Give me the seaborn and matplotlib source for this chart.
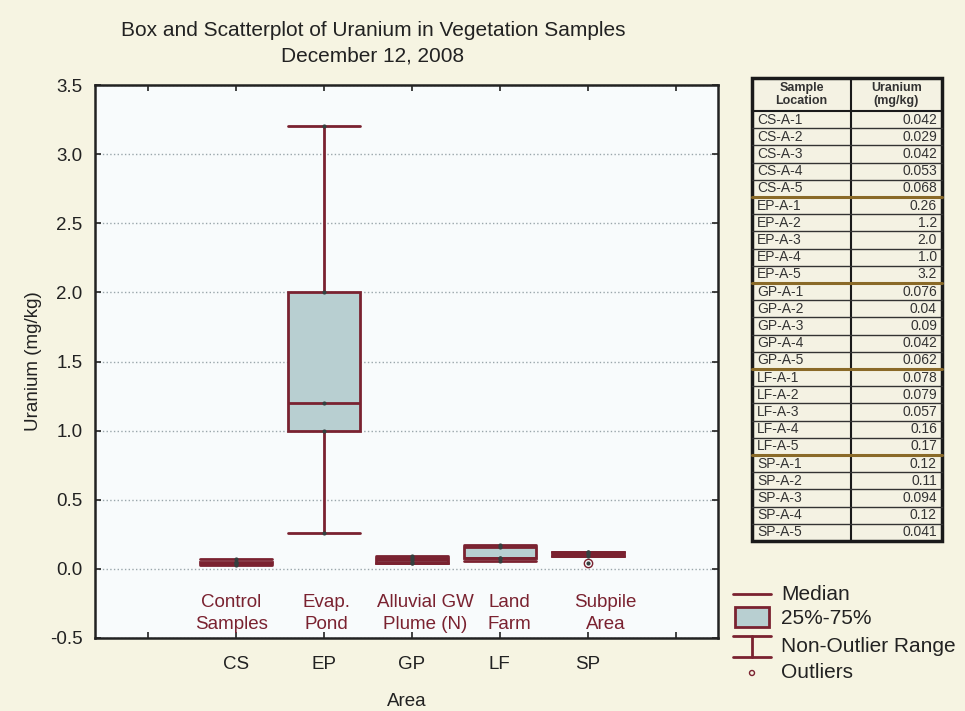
import numpy as np
import pandas as pd
import seaborn as sns
import matplotlib.pyplot as plt
from matplotlib.patches import Rectangle, Circle

areas = ['CS', 'EP', 'GP', 'LF', 'SP']
area_names = ['Control\nSamples', 'Evap.\nPond', 'Alluvial GW\nPlume (N)', 'Land\nFarm', 'Subpile\nArea']
cs_values = ['0.042', '0.029', '0.042', '0.053', '0.068']
ep_values = ['0.26', '1.2', '2.0', '1.0', '3.2']
gp_values = ['0.076', '0.04', '0.09', '0.042', '0.062']
lf_values = ['0.078', '0.079', '0.057', '0.16', '0.17']
sp_values = ['0.12', '0.11', '0.094', '0.12', '0.041']

BG = '#F6F4E2'
MAROON = '#7A2230'
BOXFILL = '#B8CFD1'
TXT = '#222222'

groups = [cs_values, ep_values, gp_values, lf_values, sp_values]
rows = []
for area, vals in zip(areas, groups):
    for i, v in enumerate(vals):
        rows.append({'Area': area, 'Sample': f'{area}-A-{i + 1}', 'label': v, 'Uranium': float(v)})
df = pd.DataFrame(rows)

sns.set_style('ticks')
plt.rcParams['font.family'] = ['Liberation Sans', 'DejaVu Sans']

fig = plt.figure(figsize=(9.65, 7.11), dpi=100, facecolor=BG)
ax = fig.add_axes([95 / 965, 73 / 711, 623 / 965, 553 / 711])
ax.set_facecolor('#F8FBFC')

sns.boxplot(data=df, x='Area', y='Uranium', order=areas, ax=ax, width=0.82,
            color=BOXFILL, saturation=1, linecolor=MAROON, linewidth=2,
            whis=1.5, capwidths=0.82,
            flierprops=dict(marker='o', markersize=6, markerfacecolor='none',
                            markeredgecolor=MAROON, markeredgewidth=1))
sns.stripplot(data=df, x='Area', y='Uranium', order=areas, ax=ax, jitter=False,
              color='#34403f', size=3, zorder=5)

ax.set_xlim(-1.6, 5.48)
ax.set_ylim(-0.5, 3.5)
ax.set_xticks(range(-1, 6))
ax.set_xticklabels([''] + areas + [''])
ax.set_yticks(np.arange(-0.5, 3.51, 0.5))
ax.set_yticklabels([f'{v:.1f}' for v in np.arange(-0.5, 3.51, 0.5)])
ax.yaxis.grid(True, linestyle=':', color='#9aa6ab', linewidth=1)
ax.set_axisbelow(True)
ax.tick_params(direction='in', length=4, width=1.2, top=True, right=True,
               labelsize=13.5, colors=TXT, pad=9)
ax.tick_params(axis='x', pad=13)
for s in ax.spines.values():
    s.set_linewidth(1.8)
    s.set_color('#222222')

ax.set_xlabel('Area', fontsize=13.5, color=TXT, labelpad=14)
ax.set_ylabel('Uranium (mg/kg)', fontsize=13.5, color=TXT, labelpad=6)

label_x = [-0.05, 1.03, 2.15, 3.11, 4.2]
for xpos, name in zip(label_x, area_names):
    ax.text(xpos, -0.32, name, ha='center', va='center', fontsize=13.5,
            color=MAROON, linespacing=1.4)

fig.text(373 / 965, 1 - 30 / 711, 'Box and Scatterplot of Uranium in Vegetation Samples',
         ha='center', va='center', fontsize=15, color=TXT)
fig.text(373 / 965, 1 - 56 / 711, 'December 12, 2008',
         ha='center', va='center', fontsize=15, color=TXT)

# overlay in pixel coordinates for the table and the legend
ov = fig.add_axes([0, 0, 1, 1])
ov.set_xlim(0, 965)
ov.set_ylim(711, 0)
ov.axis('off')
ov.patch.set_visible(False)

# table
tx0, tx1, tmid = 752, 942, 851
ty0, head_h, row_h = 78, 33, 17.2
n = len(df)
ty1 = ty0 + head_h + n * row_h
ov.add_patch(Rectangle((tx0, ty0), tx1 - tx0, ty1 - ty0, facecolor='#F4F2E3',
                       edgecolor='#1a1a1a', linewidth=2.5, zorder=3))
ov.plot([tmid, tmid], [ty0, ty1], color='#1a1a1a', lw=1.5, zorder=4)
ov.plot([tx0, tx1], [ty0 + head_h, ty0 + head_h], color='#1a1a1a', lw=1.5, zorder=4)
ov.text((tx0 + tmid) / 2, ty0 + head_h / 2, 'Sample\nLocation', ha='center', va='center',
        fontsize=9, fontweight='bold', color='#333333', linespacing=1.2, zorder=5)
ov.text((tmid + tx1) / 2, ty0 + head_h / 2, 'Uranium\n(mg/kg)', ha='center', va='center',
        fontsize=9, fontweight='bold', color='#333333', linespacing=1.2, zorder=5)
for i, r in df.iterrows():
    yc = ty0 + head_h + (i + 0.5) * row_h
    ybot = ty0 + head_h + (i + 1) * row_h
    if i < n - 1:
        sep = (i + 1) % 5 == 0
        ov.plot([tx0, tx1], [ybot, ybot], color='#8a6a28' if sep else '#333333',
                lw=2.2 if sep else 1.0, zorder=4)
    ov.text(tx0 + 5, yc, r['Sample'], ha='left', va='center', fontsize=10,
            color='#333333', zorder=5)
    ov.text(tx1 - 5, yc, r['label'], ha='right', va='center', fontsize=10,
            color='#333333', zorder=5)

# legend
ov.plot([733, 771], [594, 594], color=MAROON, lw=2)
ov.add_patch(Rectangle((735, 607), 34, 20, facecolor=BOXFILL, edgecolor=MAROON, lw=2))
ov.plot([733, 771], [636, 636], color=MAROON, lw=2)
ov.plot([752, 752], [636, 657], color=MAROON, lw=2)
ov.plot([733, 771], [657, 657], color=MAROON, lw=2)
ov.add_patch(Circle((752, 673), 2.5, facecolor='none', edgecolor=MAROON, lw=1))
for yy, t in zip([594, 619, 646, 673], ['Median', '25%-75%', 'Non-Outlier Range', 'Outliers']):
    ov.text(781, yy, t, ha='left', va='center', fontsize=15, color=TXT)

fig.savefig('out.png', dpi=100, facecolor=BG)
